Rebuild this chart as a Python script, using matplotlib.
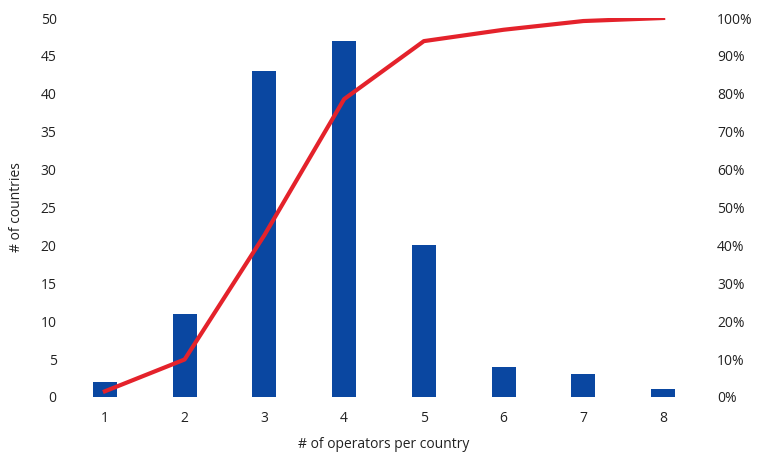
import matplotlib
matplotlib.use("Agg")
import matplotlib.pyplot as plt
from matplotlib.ticker import FuncFormatter

plt.rcParams['font.family'] = ['Open Sans', 'DejaVu Sans']

# Number of operators per country and how many countries have that count
operators = [1, 2, 3, 4, 5, 6, 7, 8]
countries = [2, 11, 43, 47, 20, 4, 3, 1]
# Cumulative share of countries (%)
cumulative_pct = [1.5, 9.9, 42.7, 78.6, 93.9, 96.9, 99.2, 100.0]

fig = plt.figure(figsize=(7.59, 4.54), dpi=100)
ax = fig.add_axes([65 / 759, 1 - 397 / 454, (703 - 65) / 759, (397 - 18) / 454])

ax.bar(operators, countries, width=0.3, color='#0a47a1', zorder=2)
ax.set_xlim(0.5, 8.5)
ax.set_ylim(0, 50)
ax.set_yticks(range(0, 51, 5))
ax.set_xticks(operators)
ax.set_xlabel('# of operators per country', fontsize=10, color='#222222', labelpad=8)
ax.set_ylabel('# of countries', fontsize=10, color='#222222')
ax.yaxis.set_label_coords(-41 / 638, 0.5)
ax.tick_params(axis='both', length=0, labelsize=10, colors='#222222')
ax.tick_params(axis='y', pad=6)
ax.tick_params(axis='x', pad=10)
for s in ax.spines.values():
    s.set_visible(False)

ax2 = ax.twinx()
ax2.plot(operators, cumulative_pct, color='#e4222b', linewidth=3, zorder=3)
ax2.set_ylim(0, 100)
ax2.set_yticks(range(0, 101, 10))
ax2.yaxis.set_major_formatter(FuncFormatter(lambda v, _: f'{int(v)}%'))
ax2.tick_params(axis='y', length=0, labelsize=10, colors='#222222', pad=10)
for s in ax2.spines.values():
    s.set_visible(False)

fig.savefig('out.png', dpi=100, facecolor='white')
